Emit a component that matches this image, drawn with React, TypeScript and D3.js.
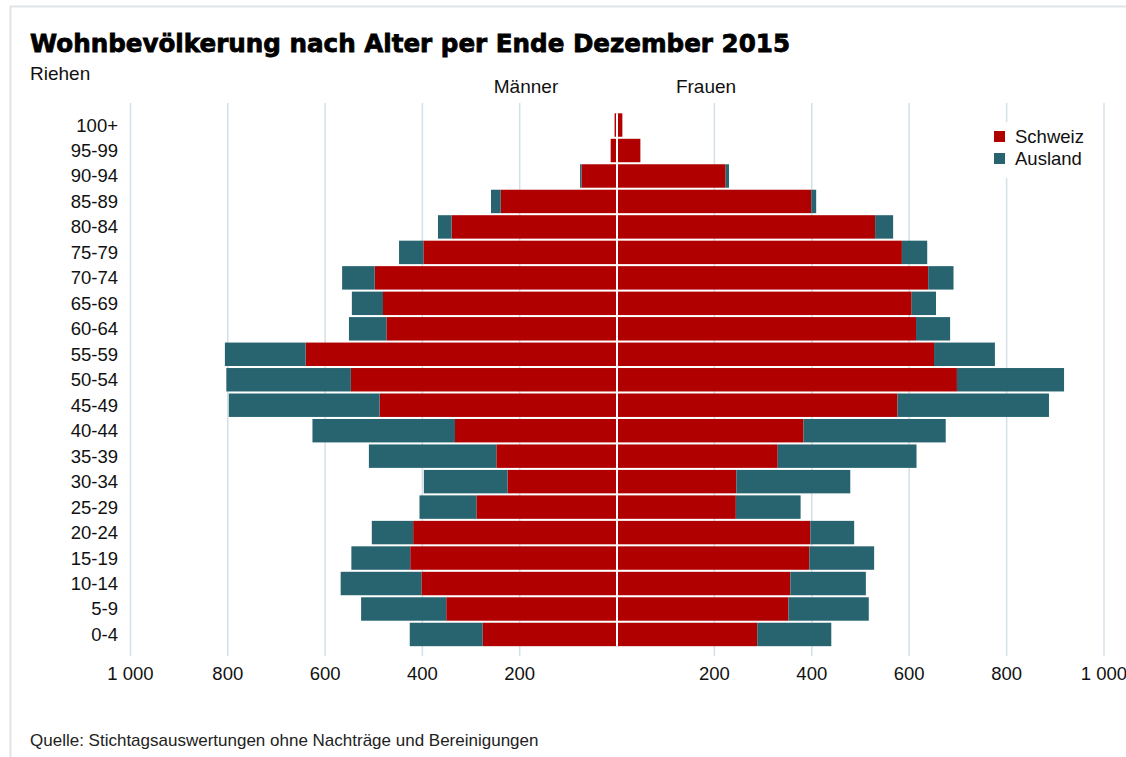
import React from 'react';
import * as d3 from 'd3';

// age groups, top to bottom
const ageGroups = [
  '100+', '95-99', '90-94', '85-89', '80-84', '75-79', '70-74', '65-69', '60-64',
  '55-59', '50-54', '45-49', '40-44', '35-39', '30-34', '25-29', '20-24',
  '15-19', '10-14', '5-9', '0-4',
];

// Männer
const menSchweiz = [5, 13, 73, 239, 340, 398, 498, 481, 474, 640, 547, 488, 333, 248, 225, 289, 419, 425, 402, 351, 276];
const menAusland = [0, 0, 3, 20, 28, 50, 67, 64, 77, 166, 256, 310, 293, 262, 172, 117, 85, 121, 166, 175, 150];

// Frauen
const womenSchweiz = [11, 48, 223, 399, 530, 585, 639, 605, 614, 651, 698, 576, 383, 330, 245, 244, 397, 395, 356, 352, 288];
const womenAusland = [0, 0, 7, 10, 37, 52, 52, 50, 70, 125, 220, 311, 292, 285, 234, 133, 90, 133, 155, 165, 152];

const tickValues = [200, 400, 600, 800, 1000];
const legendItems = ['Schweiz', 'Ausland'];

const RED = '#b00000';
const TEAL = '#276470';
const GRID = '#d3e0e8';
const FONT = '"Liberation Sans", Arial, sans-serif';

const fmt = (v: number) => (v >= 1000 ? d3.format(',')(v).replace(',', ' ') : String(v));

export default function App() {
  const width = 1126;
  const height = 757;
  const center = 617;

  const xLeft = d3.scaleLinear().domain([0, 1000]).range([center, 130.5]);
  const xRight = d3.scaleLinear().domain([0, 1000]).range([center, 1104]);
  const y = d3.scaleBand<string>()
    .domain(ageGroups)
    .range([112.3, 647.2])
    .paddingInner(0.08)
    .paddingOuter(0.04);

  const colors = d3.scaleOrdinal<string, string>().domain(legendItems).range([RED, TEAL]);

  const gridTop = 103;
  const gridBottom = 656;

  return (
    <svg width={width} height={height} style={{ position: 'absolute', left: 0, top: 0, background: '#fff' }}
      fontFamily={FONT}>
      {/* frame */}
      <line x1={10} x2={width} y1={6.5} y2={6.5} stroke="#dfe4e6" strokeWidth={2} />
      <line x1={10.5} x2={10.5} y1={6} y2={height} stroke="#dfe4e6" strokeWidth={2} />

      <text x={30} y={52} fontSize={25} fontWeight={900} fill="#000" textLength={760}
        lengthAdjust="spacingAndGlyphs" fontFamily='"DejaVu Sans", sans-serif'
        stroke="#000" strokeWidth={0.8}>
        Wohnbevölkerung nach Alter per Ende Dezember 2015
      </text>
      <text x={30} y={80} fontSize={19} fill="#111">Riehen</text>
      <text x={526} y={93} fontSize={19} fill="#111" textAnchor="middle">Männer</text>
      <text x={706} y={93} fontSize={19} fill="#111" textAnchor="middle">Frauen</text>

      {/* grid */}
      {tickValues.map(t => (
        <g key={'g' + t}>
          <line x1={xLeft(t)} x2={xLeft(t)} y1={gridTop} y2={gridBottom} stroke={GRID} strokeWidth={1.5} />
          <line x1={xRight(t)} x2={xRight(t)} y1={gridTop} y2={gridBottom} stroke={GRID} strokeWidth={1.5} />
          <text x={xLeft(t)} y={680} fontSize={18.5} textAnchor="middle" fill="#111">{fmt(t)}</text>
          <text x={xRight(t)} y={680} fontSize={18.5} textAnchor="middle" fill="#111">{fmt(t)}</text>
        </g>
      ))}

      {/* bars */}
      {ageGroups.map((a, i) => {
        const y0 = y(a) as number;
        const h = y.bandwidth();
        return (
          <g key={a}>
            <rect x={xLeft(menSchweiz[i])} y={y0} width={center - xLeft(menSchweiz[i])} height={h} fill={colors('Schweiz')} />
            <rect x={xLeft(menSchweiz[i] + menAusland[i])} y={y0}
              width={xLeft(menSchweiz[i]) - xLeft(menSchweiz[i] + menAusland[i])} height={h} fill={colors('Ausland')} />
            <rect x={center} y={y0} width={xRight(womenSchweiz[i]) - center} height={h} fill={colors('Schweiz')} />
            <rect x={xRight(womenSchweiz[i])} y={y0}
              width={xRight(womenSchweiz[i] + womenAusland[i]) - xRight(womenSchweiz[i])} height={h} fill={colors('Ausland')} />
            <text x={118} y={y0 + h / 2} dy="0.35em" fontSize={18.5} textAnchor="end" fill="#111">{a}</text>
          </g>
        );
      })}
      <line x1={center} x2={center} y1={y(ageGroups[0]) as number} y2={(y(ageGroups[ageGroups.length - 1]) as number) + y.bandwidth()}
        stroke="#fff" strokeWidth={2} />

      {/* legend */}
      <rect x={988} y={122} width={110} height={56} fill="#fff" />
      {legendItems.map((k, i) => (
        <g key={k} transform={`translate(994,${131 + i * 22})`}>
          <rect x={0} y={0} width={11} height={11} fill={colors(k)} />
          <text x={21} y={5.5} dy="0.35em" fontSize={18.5} fill="#111">{k}</text>
        </g>
      ))}

      <text x={30} y={746} fontSize={17} fill="#222">
        Quelle: Stichtagsauswertungen ohne Nachträge und Bereinigungen
      </text>
    </svg>
  );
}
